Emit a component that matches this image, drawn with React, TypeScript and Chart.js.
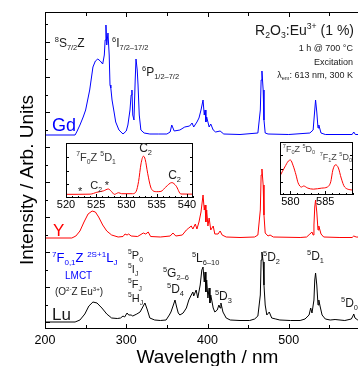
import React, { useEffect, useRef } from 'react';
import { Chart, registerables } from 'chart.js';

Chart.register(...registerables);

const FONT = '"Liberation Sans", Arial, Helvetica, sans-serif';

// ---------------- axes ----------------
const X_MIN = 200;
const X_MAX = 600;
const X_STEP = 100;
const X_MINOR = 50;
const Y_MIN = -7;
const Y_MAX = 310;
const Y_STEP = 17.5;

// vertical offsets of the stacked spectra
const LU_OFFSET = 0;
const Y_OFFSET = 84;
const GD_OFFSET = 187;

// ---------------- spectra: [wavelength nm, intensity] ----------------
const gdSpectrum: [number, number][] = [
  [200, 0], [237, 0], [239, 3], [243, 10], [247, 18], [250, 25], [255, 45], [259, 68], [262, 74], [265, 76],
  [268, 74], [271, 71], [273, 80], [274, 95], [275, 110], [276, 90], [277.5, 102], [279, 80], [280, 50],
  [281, 47], [282.5, 35], [285, 23], [287, 13], [291, 5], [296, 1], [300, 4], [302, 10], [304.6, 25],
  [306, 40], [307, 45], [308, 20], [309.5, 15], [311, 55], [312, 76], [313.5, 65], [314.5, 50], [316, 20],
  [318, 5], [322, 2], [329, 1], [340, 1], [350, 1], [354, 3], [356, 10], [359, 4], [366, 5], [372, 8],
  [378, 9], [381, 12], [383, 8], [387, 13], [389.5, 17], [392, 25], [394.5, 35], [396, 20], [397, 25],
  [398, 13], [399, 18], [402, 8], [404, 11], [407, 5], [410, 3], [415.5, 4], [420, 1], [440, 0.5],
  [462, 2], [465, 25], [466, 55], [467, 64], [468.5, 45], [469.5, 15], [471, 2], [474.5, 1], [500, 0.5],
  [526, 2], [530, 5], [532, 25], [533, 35], [534.5, 23], [536, 7], [537, 10], [539.7, 2], [545, 0.5],
  [578, 0.5], [580, 3], [582, 0.5], [600, 0.5],
];

const ySpectrum: [number, number][] = [
  [200, 0], [233, 0], [238, 2], [243, 7], [248, 16], [253, 24], [258, 27], [262, 26], [266, 21], [271, 13],
  [276, 7], [282, 3], [290, 1], [296, 1.5], [298.5, 4], [301, 3], [303, 4], [306, 2], [314, 1.5], [321, 5],
  [324, 4], [327, 6], [330, 1.5], [342, 1], [354, 2], [357.5, 5], [361, 2], [369, 3], [374, 8], [377, 10],
  [380, 12], [382, 9], [385, 14], [387, 9], [389.5, 16], [392, 26], [394.5, 43], [396, 28], [397, 33],
  [398, 16], [399, 28], [400.5, 12], [402, 20], [404, 8], [407, 12], [409, 4], [413, 4], [415.5, 7],
  [418, 3], [423, 1], [440, 0.5], [458, 1], [462, 3], [465, 28], [466, 63], [467, 69], [468.5, 53],
  [469.5, 23], [471, 5], [474.5, 2], [477, 3], [481, 1], [514, 0.5], [522, 1], [526, 4], [528.6, 6],
  [530, 3], [531, 13], [532, 31], [533, 38], [534.5, 26], [536, 8], [537, 12], [539.7, 4], [543, 1],
  [563, 0.5], [578, 0.5], [580, 2], [583, 1], [600, 0.5],
];

const luSpectrum: [number, number][] = [
  [200, 0], [237, 0], [243, 2], [249, 8], [254, 16], [259, 20], [264, 19], [270, 14], [276, 8], [282, 4],
  [289, 3.5], [293, 4], [296, 6], [298, 5], [301, 9], [303, 7], [306, 7], [308, 6], [313, 8], [317, 10],
  [321, 16], [323, 19], [326, 12], [329, 4], [335, 2], [342, 1.5], [349, 2], [353, 7], [355, 10], [358, 17],
  [360, 22], [362, 15], [364, 9], [366, 7], [370, 9], [374, 14], [377, 22], [380, 27], [382, 30], [383, 26],
  [386, 32], [388, 24], [391, 37], [393, 52], [394.5, 55], [396, 40], [397, 50], [398, 30], [399, 42],
  [400.5, 24], [402, 34], [403, 19], [404, 27], [407, 14], [409, 10], [412, 12], [414, 17], [415.5, 14],
  [416.5, 19], [419, 10], [423, 4], [428, 2], [440, 1.5], [452, 1.5], [458, 3], [462, 6], [465, 27],
  [466, 62], [467, 70], [468.5, 60], [469.5, 37], [471, 17], [473, 7], [476, 10], [479, 4], [484, 3],
  [489, 2], [502, 1.5], [514, 1.5], [520, 3], [525, 7], [527, 14], [528.6, 9], [531, 22], [532, 42],
  [533, 49], [534.5, 37], [536, 17], [537, 22], [538.5, 16], [541, 7], [545, 3], [551, 2], [557, 2.5],
  [569, 1.5], [577, 3], [579, 6], [580, 8], [581.5, 4], [585, 2], [600, 2],
];

// insets (Y2O3:Eu, zoomed)
const insetLeftSpectrum: [number, number][] = [
  [520, 0.067], [522, 0.067], [524, 0.07], [525.1, 0.104], [526.2, 0.13], [527, 0.164], [527.5, 0.12],
  [528, 0.067], [528.7, 0.096], [529.2, 0.078], [531, 0.078], [531.6, 0.12], [532, 0.3], [532.4, 0.62],
  [532.8, 0.76], [533.1, 0.7], [533.5, 0.45], [534, 0.2], [534.4, 0.13], [535, 0.115], [535.7, 0.12],
  [536.5, 0.2], [537.5, 0.28], [538.2, 0.22], [539, 0.073], [541, 0.07],
];
const insetRightSpectrum: [number, number][] = [
  [578.5, 0.36], [579.2, 0.53], [579.7, 0.64], [580, 0.66], [580.4, 0.55], [580.8, 0.38], [581.1, 0.23],
  [581.6, 0.15], [581.9, 0.17], [582.5, 0.13], [583.3, 0.11], [584.5, 0.13], [585.3, 0.15], [585.8, 0.25],
  [586.1, 0.47], [586.5, 0.57], [586.9, 0.51], [587.3, 0.32], [587.8, 0.15], [589, 0.09],
];
const INSET_L_X = [520, 541];
const INSET_R_X = [578.5, 589];
const INSET_X_STEP = 5;
const INSET_Y_STEP = 0.25;

// ---------------- text ----------------
type Part = [string, 'n' | 'sup' | 'sub'];
type Label = { x: number; y: number; size: number; color: string; align?: 'left' | 'right'; parts: Part[] };

const BLUE = '#0000ff';
const RED = '#ff0000';
const INK = '#1a1a1a';

const mainLabels: Label[] = [
  { x: 212, y: 275, size: 12, color: INK, parts: [['8', 'sup'], ['S', 'n'], ['7/2', 'sub'], ['Z', 'n']] },
  { x: 282.5, y: 275, size: 12, color: INK, parts: [['6', 'sup'], ['I', 'n'], ['7/2\u201317/2', 'sub']] },
  { x: 319.5, y: 246, size: 12, color: INK, parts: [['6', 'sup'], ['P', 'n'], ['1/2\u20137/2', 'sub']] },
  { x: 580.3, y: 287, size: 14, color: INK, align: 'right', parts: [['R', 'n'], ['2', 'sub'], ['O', 'n'], ['3', 'sub'], [':Eu', 'n'], ['3+', 'sup'], [' (1 %)', 'n']] },
  { x: 579, y: 271, size: 9, color: INK, align: 'right', parts: [['1 h @ 700 \u00b0C', 'n']] },
  { x: 579, y: 257, size: 9, color: INK, align: 'right', parts: [['Excitation', 'n']] },
  { x: 579, y: 244, size: 9, color: INK, align: 'right', parts: [['\u03bb', 'n'], ['em', 'sub'], [': 613 nm, 300 K', 'n']] },
  { x: 208.6, y: 191, size: 18, color: BLUE, parts: [['Gd', 'n']] },
  { x: 209.8, y: 86, size: 17, color: RED, parts: [['Y', 'n']] },
  { x: 208.6, y: 2, size: 17, color: INK, parts: [['Lu', 'n']] },
  { x: 208.6, y: 60, size: 13, color: BLUE, parts: [['7', 'sup'], ['F', 'n'], ['0,1', 'sub'], ['Z ', 'n'], ['2S+1', 'sup'], ['L', 'n'], ['J', 'sub']] },
  { x: 224.6, y: 43, size: 10, color: BLUE, parts: [['LMCT', 'n']] },
  { x: 212.3, y: 27, size: 10, color: INK, parts: [['(O', 'n'], ['2-', 'sup'], ['Z Eu', 'n'], ['3+', 'sup'], [')', 'n']] },
  { x: 302.2, y: 63, size: 11, color: INK, parts: [['5', 'sup'], ['P', 'n'], ['0', 'sub']] },
  { x: 302.2, y: 49, size: 11, color: INK, parts: [['5', 'sup'], ['I', 'n'], ['J', 'sub']] },
  { x: 302.2, y: 34, size: 11, color: INK, parts: [['5', 'sup'], ['F', 'n'], ['J', 'sub']] },
  { x: 302.2, y: 20, size: 11, color: INK, parts: [['5', 'sup'], ['H', 'n'], ['J', 'sub']] },
  { x: 345.2, y: 45, size: 12, color: INK, parts: [['5', 'sup'], ['G', 'n'], ['2\u20136', 'sub']] },
  { x: 350.2, y: 29, size: 12, color: INK, parts: [['5', 'sup'], ['D', 'n'], ['4', 'sub']] },
  { x: 380.9, y: 60, size: 12, color: INK, parts: [['5', 'sup'], ['L', 'n'], ['6\u201310', 'sub']] },
  { x: 409.2, y: 22, size: 12, color: INK, parts: [['5', 'sup'], ['D', 'n'], ['3', 'sub']] },
  { x: 468.3, y: 61, size: 12, color: INK, parts: [['5', 'sup'], ['D', 'n'], ['2', 'sub']] },
  { x: 522.5, y: 62, size: 12, color: INK, parts: [['5', 'sup'], ['D', 'n'], ['1', 'sub']] },
  { x: 564.3, y: 15, size: 12, color: INK, parts: [['5', 'sup'], ['D', 'n'], ['0', 'sub']] },
];

const insetLeftLabels: Label[] = [
  { x: 521.7, y: 0.673, size: 11, color: '#333', parts: [['7', 'sup'], ['F', 'n'], ['0', 'sub'], ['Z ', 'n'], ['5', 'sup'], ['D', 'n'], ['1', 'sub']] },
  { x: 532.1, y: 0.836, size: 12, color: '#222', parts: [['C', 'n'], ['2', 'sub']] },
  { x: 536.9, y: 0.345, size: 12, color: '#222', parts: [['C', 'n'], ['2', 'sub']] },
  { x: 524, y: 0.164, size: 11, color: '#222', parts: [['C', 'n'], ['2', 'sub']] },
  { x: 522, y: 0.046, size: 11, color: '#222', parts: [['*', 'n']] },
  { x: 526.4, y: 0.164, size: 11, color: '#222', parts: [['*', 'n']] },
];
const insetRightLabels: Label[] = [
  { x: 578.9, y: 0.81, size: 9, color: '#444', parts: [['7', 'sup'], ['F', 'n'], ['0', 'sub'], ['Z ', 'n'], ['5', 'sup'], ['D', 'n'], ['0', 'sub']] },
  { x: 584.2, y: 0.66, size: 9, color: '#444', parts: [['7', 'sup'], ['F', 'n'], ['1', 'sub'], ['Z ', 'n'], ['5', 'sup'], ['D', 'n'], ['0', 'sub']] },
];

const Y_TITLE = 'Intensity / Arb. Units';
const X_TITLE = 'Wavelength / nm';

// ---------------- helpers ----------------
function drawRich(ctx: CanvasRenderingContext2D, x: number, y: number, l: Label) {
  const specs = l.parts.map(([t, m]) => {
    const s = m === 'n' ? l.size : l.size * 0.62;
    const dy = m === 'sup' ? -l.size * 0.42 : m === 'sub' ? l.size * 0.24 : 0;
    ctx.font = `${s}px ${FONT}`;
    return { t, s, dy, w: ctx.measureText(t).width };
  });
  const total = specs.reduce((a, b) => a + b.w, 0);
  let cx = l.align === 'right' ? x - total : x;
  ctx.fillStyle = l.color;
  ctx.textAlign = 'left';
  ctx.textBaseline = 'alphabetic';
  for (const sp of specs) {
    ctx.font = `${sp.s}px ${FONT}`;
    ctx.fillText(sp.t, cx, y + sp.dy);
    cx += sp.w;
  }
}

function toPoints(spec: [number, number][], offset: number) {
  return spec.map(([x, y]) => ({ x, y: y + offset }));
}

const mainDecor = {
  id: 'mainDecor',
  afterDraw(chart: any) {
    const { ctx, chartArea: a } = chart;
    const xs = chart.scales.x;
    const ys = chart.scales.y;
    ctx.save();
    ctx.strokeStyle = '#000';
    ctx.lineWidth = 1;
    ctx.strokeRect(a.left + 0.5, a.top + 0.5, a.right - a.left - 1, a.bottom - a.top - 1);
    ctx.beginPath();
    for (let v = X_MIN; v <= X_MAX; v += X_MINOR) {
      const px = Math.round(xs.getPixelForValue(v)) + 0.5;
      const len = v % X_STEP === 0 ? 5 : 4;
      ctx.moveTo(px, a.bottom);
      ctx.lineTo(px, a.bottom - len);
      ctx.moveTo(px, a.top);
      ctx.lineTo(px, a.top + len);
    }
    let i = 0;
    for (let v = 0; v <= Y_MAX; v += Y_STEP, i++) {
      const py = Math.round(ys.getPixelForValue(v)) + 0.5;
      const len = i % 2 === 0 ? 5 : 3;
      ctx.moveTo(a.left, py);
      ctx.lineTo(a.left + len, py);
    }
    ctx.stroke();
    for (const l of mainLabels) {
      drawRich(ctx, xs.getPixelForValue(l.x), ys.getPixelForValue(l.y), l);
    }
    // y axis title
    ctx.save();
    ctx.translate(32.5, (a.top + a.bottom) / 2 + 9.5);
    ctx.rotate(-Math.PI / 2);
    ctx.font = `19px ${FONT}`;
    ctx.fillStyle = '#000';
    ctx.textAlign = 'center';
    ctx.textBaseline = 'alphabetic';
    ctx.fillText(Y_TITLE, 0, 0);
    ctx.restore();
    ctx.restore();
  },
};

function insetDecor(labels: Label[]) {
  return {
    id: 'insetDecor',
    afterDraw(chart: any) {
      const { ctx, chartArea: a } = chart;
      const xs = chart.scales.x;
      const ys = chart.scales.y;
      ctx.save();
      ctx.strokeStyle = '#000';
      ctx.lineWidth = 1;
      ctx.strokeRect(a.left + 0.5, a.top + 0.5, a.right - a.left - 1, a.bottom - a.top - 1);
      ctx.beginPath();
      const start = Math.ceil(xs.min);
      for (let v = start; v <= xs.max; v += 1) {
        const px = Math.round(xs.getPixelForValue(v)) + 0.5;
        const len = v % INSET_X_STEP === 0 ? 4 : 2;
        ctx.moveTo(px, a.bottom);
        ctx.lineTo(px, a.bottom - len);
      }
      for (let v = INSET_Y_STEP; v < 1; v += INSET_Y_STEP) {
        const py = Math.round(ys.getPixelForValue(v)) + 0.5;
        ctx.moveTo(a.right, py);
        ctx.lineTo(a.right - 3, py);
        ctx.moveTo(a.left, py);
        ctx.lineTo(a.left + 3, py);
      }
      ctx.stroke();
      for (const l of labels) {
        drawRich(ctx, xs.getPixelForValue(l.x), ys.getPixelForValue(l.y), l);
      }
      ctx.restore();
    },
  };
}

function lineSet(spec: [number, number][], offset: number, color: string) {
  return {
    data: toPoints(spec, offset),
    borderColor: color,
    borderWidth: 1,
    pointRadius: 0,
    tension: 0,
    fill: false,
  };
}

function makeInset(
  canvas: HTMLCanvasElement,
  spec: [number, number][],
  range: number[],
  padding: any,
  axisH: number,
  labels: Label[],
) {
  return new Chart(canvas, {
    type: 'line',
    data: {
      datasets: [{ ...lineSet(spec, 0, RED), cubicInterpolationMode: 'monotone' } as any],
    },
    options: {
      animation: false,
      responsive: false,
      devicePixelRatio: 1,
      layout: { padding },
      plugins: { legend: { display: false }, tooltip: { enabled: false } },
      scales: {
        x: {
          type: 'linear',
          min: range[0],
          max: range[1],
          grid: { display: false, drawTicks: false, tickLength: 0 },
          border: { display: false },
          ticks: {
            stepSize: INSET_X_STEP,
            includeBounds: false,
            autoSkip: false,
            maxRotation: 0,
            padding: 0,
            color: '#000',
            font: { family: FONT, size: 11 },
          },
          afterFit: (s: any) => {
            s.height = axisH;
          },
        },
        y: { display: false, min: 0, max: 1 },
      },
    } as any,
    plugins: [insetDecor(labels)],
  });
}

export default function App() {
  const mainRef = useRef<HTMLCanvasElement>(null);
  const leftRef = useRef<HTMLCanvasElement>(null);
  const rightRef = useRef<HTMLCanvasElement>(null);

  useEffect(() => {
    const main = new Chart(mainRef.current!, {
      type: 'line',
      data: {
        datasets: [
          lineSet(gdSpectrum, GD_OFFSET, BLUE),
          lineSet(ySpectrum, Y_OFFSET, RED),
          lineSet(luSpectrum, LU_OFFSET, '#000'),
        ],
      },
      options: {
        animation: false,
        responsive: false,
        devicePixelRatio: 1,
        layout: { padding: { left: 45, top: 12, right: 15, bottom: 0 } },
        plugins: { legend: { display: false }, tooltip: { enabled: false } },
        scales: {
          x: {
            type: 'linear',
            min: X_MIN,
            max: X_MAX,
            grid: { display: false, drawTicks: false, tickLength: 0 },
            border: { display: false },
            ticks: {
              stepSize: X_STEP,
              autoSkip: false,
              maxRotation: 0,
              padding: 4.5,
              color: '#000',
              font: { family: FONT, size: 12.5 },
            },
            title: {
              display: true,
              text: X_TITLE,
              color: '#000',
              font: { family: FONT, size: 19 },
              padding: { top: 0, bottom: 3 },
            },
            afterFit: (s: any) => {
              s.height = 43;
            },
          },
          y: { display: false, min: Y_MIN, max: Y_MAX },
        },
      } as any,
      plugins: [mainDecor],
    });
    const left = makeInset(leftRef.current!, insetLeftSpectrum, INSET_L_X, { left: 18, right: 13, top: 5, bottom: 0 }, 20, insetLeftLabels);
    const right = makeInset(rightRef.current!, insetRightSpectrum, INSET_R_X, { left: 14, right: 5, top: 5, bottom: 0 }, 16, insetRightLabels);
    return () => {
      main.destroy();
      left.destroy();
      right.destroy();
    };
  }, []);

  return (
    <div style={{ position: 'fixed', left: 0, top: 0, width: 358, height: 366, overflow: 'hidden', background: '#fff' }}>
      <canvas ref={mainRef} width={385} height={372} style={{ position: 'absolute', left: 0, top: 0, width: 385, height: 372 }} />
      <canvas ref={leftRef} width={158} height={80} style={{ position: 'absolute', left: 48, top: 138, width: 158, height: 80 }} />
      <canvas ref={rightRef} width={92} height={74} style={{ position: 'absolute', left: 266, top: 137, width: 92, height: 74 }} />
    </div>
  );
}
